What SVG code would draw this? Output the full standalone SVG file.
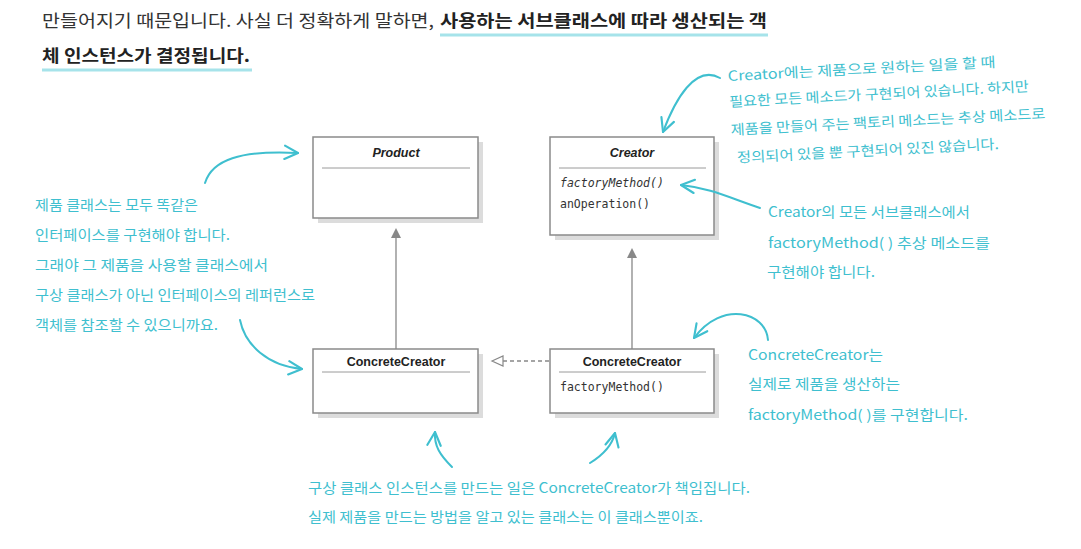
<svg xmlns="http://www.w3.org/2000/svg" width="1081" height="549" viewBox="0 0 1081 549">
<style>
.head{font-family:"Noto Sans CJK KR","Noto Sans",sans-serif;font-size:17px;fill:#333}
.hb{font-weight:bold;fill:#222}
.ul{stroke:#a6e3ea;stroke-width:3}
.note{font-family:"Noto Sans CJK KR","Noto Sans",sans-serif;font-size:14px;fill:#3fbfcf}
.box{fill:#fff;stroke:#8a8a8a;stroke-width:1.5}
.shadow{fill:#dcdcdc}
.div{stroke:#9a9a9a;stroke-width:1}
.title{font-family:"Liberation Sans",Arial,sans-serif;font-size:12.5px;font-weight:bold;fill:#222;text-anchor:middle}
.meth{font-family:"DejaVu Sans Mono","Liberation Mono",monospace;font-size:11.5px;fill:#333}
.inh{stroke:#888;stroke-width:1.3;fill:none}
.tri{fill:#888}
.cyan{stroke:#3fbfcf;stroke-width:2;fill:none;stroke-linecap:round}
</style>
<defs>
<marker id="vh" viewBox="0 0 12 12" refX="11" refY="6" markerWidth="16" markerHeight="16" markerUnits="userSpaceOnUse" orient="auto">
<path d="M1,1 L11,6 L1,11" fill="none" stroke="#3fbfcf" stroke-width="1.6" stroke-linecap="round" stroke-linejoin="round"/>
</marker>
</defs>
<rect width="1081" height="549" fill="#fff"/>

<g id="heading">
<text class="head" x="42" y="27" textLength="392" lengthAdjust="spacingAndGlyphs">만들어지기 때문입니다. 사실 더 정확하게 말하면,</text>
<line class="ul" x1="440" y1="35" x2="768" y2="35"/>
<text class="head hb" x="440" y="27" textLength="327" lengthAdjust="spacingAndGlyphs">사용하는 서브클래스에 따라 생산되는 객</text>
<line class="ul" x1="42" y1="70" x2="252" y2="70"/>
<text class="head hb" x="42" y="62" textLength="208" lengthAdjust="spacingAndGlyphs">체 인스턴스가 결정됩니다.</text>
</g>

<g id="product">
<rect class="shadow" x="318" y="142" width="165" height="81"/>
<rect class="box" x="313" y="137" width="165" height="81"/>
<line class="div" x1="322" y1="168" x2="470" y2="168"/>
<text class="title" x="396" y="157" font-style="italic">Product</text>
</g>

<g id="creator">
<rect class="shadow" x="555" y="142" width="164" height="98"/>
<rect class="box" x="550" y="137" width="164" height="98"/>
<line class="div" x1="559" y1="168" x2="706" y2="168"/>
<text class="title" x="632" y="157" font-style="italic">Creator</text>
<text class="meth" x="560" y="187" font-style="italic">factoryMethod()</text>
<text class="meth" x="560" y="208">anOperation()</text>
</g>

<g id="concreteProduct">
<rect class="shadow" x="318" y="354" width="165" height="64"/>
<rect class="box" x="313" y="349" width="165" height="64"/>
<line class="div" x1="322" y1="372" x2="470" y2="372"/>
<text class="title" x="396" y="366">ConcreteCreator</text>
</g>

<g id="concreteCreator">
<rect class="shadow" x="555" y="354" width="164" height="64"/>
<rect class="box" x="550" y="349" width="164" height="64"/>
<line class="div" x1="559" y1="372" x2="706" y2="372"/>
<text class="title" x="632" y="366">ConcreteCreator</text>
<text class="meth" x="560" y="391">factoryMethod()</text>
</g>

<g id="connectors">
<line class="inh" x1="396" y1="238" x2="396" y2="349"/>
<polygon class="tri" points="396,228 391,238 401,238"/>
<line class="inh" x1="632" y1="258" x2="632" y2="349"/>
<polygon class="tri" points="632,248 627,258 637,258"/>
<line class="inh" x1="503" y1="361" x2="549" y2="361" stroke-dasharray="4,3"/>
<polygon points="492,361 503,356 503,366" fill="#fff" stroke="#888" stroke-width="1.2"/>

<path class="cyan" d="M205,183 C212,160 240,150 298,153" marker-end="url(#vh)"/>
<path class="cyan" d="M240,320 C245,345 268,366 302,369" marker-end="url(#vh)"/>
<path class="cyan" d="M720,78 C695,64 675,100 663,132" marker-end="url(#vh)"/>
<path class="cyan" d="M760,208 C730,198 710,188 681,185" marker-end="url(#vh)"/>
<path class="cyan" d="M768,340 C766,312 722,300 694,338" marker-end="url(#vh)"/>
<path class="cyan" d="M452,467 C440,455 434,446 435,432" marker-end="url(#vh)"/>
<path class="cyan" d="M590,463 C603,455 612,446 615,433" marker-end="url(#vh)"/>
</g>

<g id="note-product">
<text class="note" x="35" y="210" textLength="163" lengthAdjust="spacingAndGlyphs">제품 클래스는 모두 똑같은</text>
<text class="note" x="35" y="240" textLength="195" lengthAdjust="spacingAndGlyphs">인터페이스를 구현해야 합니다.</text>
<text class="note" x="35" y="270" textLength="233" lengthAdjust="spacingAndGlyphs">그래야 그 제품을 사용할 클래스에서</text>
<text class="note" x="35" y="300" textLength="280" lengthAdjust="spacingAndGlyphs">구상 클래스가 아닌 인터페이스의 레퍼런스로</text>
<text class="note" x="35" y="330" textLength="183" lengthAdjust="spacingAndGlyphs">객체를 참조할 수 있으니까요.</text>
</g>

<g id="note-creator" transform="rotate(-3 728 80)">
<text class="note" x="728" y="81" textLength="268" lengthAdjust="spacingAndGlyphs">Creator에는 제품으로 원하는 일을 할 때</text>
<text class="note" x="728" y="107" textLength="300" lengthAdjust="spacingAndGlyphs">필요한 모든 메소드가 구현되어 있습니다. 하지만</text>
<text class="note" x="728" y="135" textLength="315" lengthAdjust="spacingAndGlyphs">제품을 만들어 주는 팩토리 메소드는 추상 메소드로</text>
<text class="note" x="733" y="163" textLength="262" lengthAdjust="spacingAndGlyphs">정의되어 있을 뿐 구현되어 있진 않습니다.</text>
</g>

<g id="note-subclass">
<text class="note" x="768" y="217" textLength="202" lengthAdjust="spacingAndGlyphs">Creator의 모든 서브클래스에서</text>
<text class="note" x="768" y="248" textLength="222" lengthAdjust="spacingAndGlyphs">factoryMethod( ) 추상 메소드를</text>
<text class="note" x="767" y="277" textLength="108" lengthAdjust="spacingAndGlyphs">구현해야 합니다.</text>
</g>

<g id="note-concrete">
<text class="note" x="748" y="360" textLength="135" lengthAdjust="spacingAndGlyphs">ConcreteCreator는</text>
<text class="note" x="748" y="389" textLength="152" lengthAdjust="spacingAndGlyphs">실제로 제품을 생산하는</text>
<text class="note" x="748" y="420" textLength="220" lengthAdjust="spacingAndGlyphs">factoryMethod( )를 구현합니다.</text>
</g>

<g id="note-bottom">
<text class="note" x="308" y="493" textLength="442" lengthAdjust="spacingAndGlyphs">구상 클래스 인스턴스를 만드는 일은 ConcreteCreator가 책임집니다.</text>
<text class="note" x="308" y="522" textLength="395" lengthAdjust="spacingAndGlyphs">실제 제품을 만드는 방법을 알고 있는 클래스는 이 클래스뿐이죠.</text>
</g>
</svg>
